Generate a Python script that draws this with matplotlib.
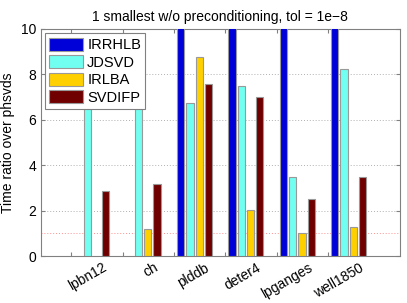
import matplotlib

matplotlib.use("Agg")

import matplotlib.pyplot as plt
import numpy as np

problems = ["lpbn12", "ch", "plddb", "deter4", "lpganges", "well1850"]
methods = ["IRRHLB", "JDSVD", "IRLBA", "SVDIFP"]
colors = ["#0000d8", "#70fff0", "#ffd000", "#700000"]

# NaN = not shown (failed / not run); values above 10 are clipped by the axis
irrhlb = [np.nan, np.nan, 12.0, 12.0, 12.0, 12.0]
jdsvd = [7.5, 7.17, 6.73, 7.47, 3.49, 8.22]
irlba = [np.nan, 1.18, 8.75, 2.03, 1.0, 1.26]
svdifp = [2.86, 3.16, 7.56, 6.99, 2.5, 3.49]
series = [irrhlb, jdsvd, irlba, svdifp]

plt.rcParams["font.family"] = ["Liberation Sans", "DejaVu Sans"]
plt.rcParams["font.size"] = 10

fig = plt.figure(figsize=(4.07, 3.03), dpi=100)
ax = fig.add_axes([40.5 / 407, 47 / 303, 359.5 / 407, 227 / 303])

x = np.arange(1, len(problems) + 1)
width = 0.14
offsets = [-0.27, -0.09, 0.09, 0.27]
for vals, off, col, name in zip(series, offsets, colors, methods):
    ax.bar(x + off, vals, width=width, color=col, edgecolor="#999999",
           linewidth=0.8, label=name, zorder=3)

ax.set_xlim(0, 7)
ax.set_ylim(0, 10)
ax.set_yticks([0, 2, 4, 6, 8, 10])
ax.set_xticks(x - 0.4)
ax.set_xticklabels([])
for i, name in zip(x, problems):
    ax.text(i + 0.2, -0.2, name, rotation=30, rotation_mode="anchor",
            ha="right", va="top", fontsize=10)

for yv in [2, 4, 6, 8]:
    ax.axhline(yv, color="#b0b0b0", linestyle=(0, (1, 2)), linewidth=0.7, zorder=1)
ax.axhline(1, color="#ff9090", linestyle=(0, (1, 2)), linewidth=0.7, zorder=1)

for s in ax.spines.values():
    s.set_color("#808080")
ax.tick_params(direction="in", top=True, right=True, color="#808080",
               length=3, labelsize=10, pad=3)

ax.set_ylabel("Time ratio over phsvds", fontsize=10, labelpad=4)
ax.set_title("1 smallest w/o preconditioning, tol = 1e\u22128", fontsize=10)

leg = ax.legend(loc="upper left", fancybox=False, framealpha=1,
                edgecolor="#808080", handlelength=2.3, handleheight=1.0,
                borderaxespad=0.3, labelspacing=0.2, handletextpad=0.3,
                borderpad=0.3, fontsize=10.5)
leg.get_frame().set_linewidth(0.8)
leg.set_zorder(5)

fig.savefig("out.png", dpi=100)
